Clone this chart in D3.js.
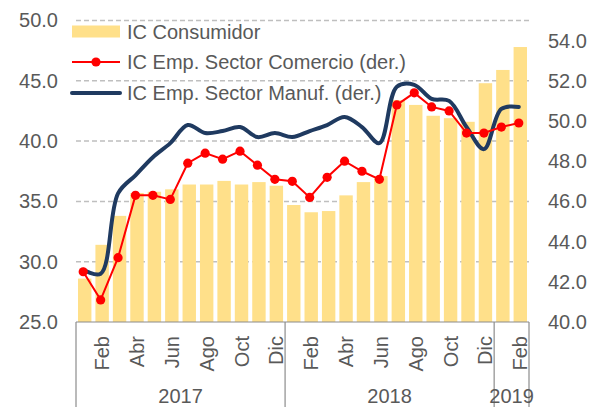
<!DOCTYPE html>
<html><head><meta charset="utf-8">
<script src="https://cdn.jsdelivr.net/npm/d3@7"></script>
<style>
body{margin:0;background:#fff}
svg text{font-family:"Liberation Sans",Arial,sans-serif;fill:#595959}
</style>
</head><body>
<svg id="c" width="604" height="407"></svg>
<script>
const months = ["Ene","Feb","Mar","Abr","May","Jun","Jul","Ago","Sep","Oct","Nov","Dic",
                "Ene","Feb","Mar","Abr","May","Jun","Jul","Ago","Sep","Oct","Nov","Dic",
                "Ene","Feb"];
const years = ["2017","2018","2019"];
const yearSpans = [12,12,2];
const consumidor = [28.6,31.4,33.8,35.7,35.8,36.0,36.4,36.4,36.7,36.4,36.6,36.3,
                    34.7,34.1,34.2,35.5,36.6,37.1,43.4,43.0,42.1,41.9,41.6,44.8,
                    45.9,47.8];
const comercio = [42.5,41.1,43.2,46.3,46.3,46.1,47.9,48.4,48.1,48.5,47.8,47.1,
                  47.0,46.2,47.2,48.0,47.5,47.1,50.8,51.4,50.7,50.5,49.4,49.4,
                  49.7,49.9];
const manuf = [42.6,42.4,46.4,47.3,48.2,48.9,49.8,49.4,49.5,49.7,49.2,49.4,
               49.2,49.5,49.8,50.2,49.7,48.9,51.7,51.8,51.1,51.0,49.7,48.6,
               50.6,50.7];
const leftTicks = [25,30,35,40,45,50];
const rightTicks = [40,42,44,46,48,50,52,54];
const legendLabels = ["IC Consumidor","IC Emp. Sector Comercio (der.)","IC Emp. Sector Manuf. (der.)"];

const colBar = "#FFE08A", colRed = "#FF0000", colNavy = "#1F3A60", colAxis = "#8C8C8C";
const L = 76, R = 529, T = 20.5, B = 322;
const svg = d3.select("#c");

const x = d3.scaleBand().domain(d3.range(months.length)).range([L, R])
  .paddingInner(0.23).paddingOuter(0.115);
const yL = d3.scaleLinear().domain([25, 50]).range([B, T]);
const yR = d3.scaleLinear().domain([40, 55]).range([B, T]);
const cx = i => x(i) + x.bandwidth() / 2 - 1.5;

// gridlines
svg.append("g").selectAll("line").data(leftTicks.filter(d => d > 25)).join("line")
  .attr("x1", L).attr("x2", R).attr("y1", d => yL(d)).attr("y2", d => yL(d))
  .attr("stroke", "#BFBFBF").attr("stroke-width", 1.5).attr("stroke-dasharray", "5,3");

// bars
svg.append("g").selectAll("rect").data(consumidor).join("rect")
  .attr("x", (d, i) => x(i)).attr("width", x.bandwidth())
  .attr("y", d => yL(d)).attr("height", d => B - yL(d))
  .attr("fill", colBar);

// navy smooth line
svg.append("path").datum(manuf)
  .attr("d", d3.line().x((d, i) => cx(i)).y(d => yR(d)).curve(d3.curveCatmullRom.alpha(0.5)))
  .attr("fill", "none").attr("stroke", colNavy).attr("stroke-width", 4)
  .attr("stroke-linejoin", "round").attr("stroke-linecap", "round");

// red line + markers
svg.append("path").datum(comercio)
  .attr("d", d3.line().x((d, i) => cx(i)).y(d => yR(d)))
  .attr("fill", "none").attr("stroke", colRed).attr("stroke-width", 2);
svg.append("g").selectAll("circle").data(comercio).join("circle")
  .attr("cx", (d, i) => cx(i)).attr("cy", d => yR(d)).attr("r", 4.6).attr("fill", colRed);

// left axis
const gl = svg.append("g").attr("transform", `translate(${L},0)`)
  .call(d3.axisLeft(yL).tickValues(leftTicks).tickFormat(d3.format(".1f")).tickSize(0).tickPadding(18));
gl.select(".domain").remove();
gl.selectAll("text").attr("font-size", 20).attr("font-family", null);

// right axis
const gr = svg.append("g").attr("transform", `translate(${R},0)`)
  .call(d3.axisRight(yR).tickValues(rightTicks).tickFormat(d3.format(".1f")).tickSize(0).tickPadding(19));
gr.select(".domain").remove();
gr.selectAll("text").attr("font-size", 20).attr("font-family", null);

// category axis box
const bounds = [0];
yearSpans.forEach(s => bounds.push(bounds[bounds.length - 1] + s));
const bx = k => L + (R - L) * bounds[k] / months.length;
svg.append("line").attr("x1", L).attr("x2", R).attr("y1", B).attr("y2", B)
  .attr("stroke", colAxis).attr("stroke-width", 1.2);
svg.append("g").selectAll("line").data(bounds).join("line")
  .attr("x1", (d, k) => bx(k)).attr("x2", (d, k) => bx(k)).attr("y1", B).attr("y2", 407)
  .attr("stroke", colAxis).attr("stroke-width", 1.2);

// month labels
svg.append("g").selectAll("text").data(months.map((m, i) => [m, i]).filter(d => d[1] % 2 === 1)).join("text")
  .attr("transform", d => `translate(${x(d[1]) + x.bandwidth() / 2},336) rotate(-90)`)
  .attr("text-anchor", "end").attr("dy", "0.35em").attr("font-size", 20)
  .text(d => d[0]);

// year labels
svg.append("g").selectAll("text").data(years).join("text")
  .attr("x", (d, k) => (bx(k) + bx(k + 1)) / 2).attr("y", 403)
  .attr("text-anchor", "middle").attr("font-size", 20).text(d => d);

// legend
const lg = svg.append("g");
const ly = [32, 62, 93];
lg.append("rect").attr("x", 72).attr("y", ly[0] - 6.5).attr("width", 48).attr("height", 12).attr("fill", colBar);
lg.append("line").attr("x1", 72).attr("x2", 120).attr("y1", ly[1]).attr("y2", ly[1]).attr("stroke", colRed).attr("stroke-width", 2);
lg.append("circle").attr("cx", 96).attr("cy", ly[1]).attr("r", 4.6).attr("fill", colRed);
lg.append("line").attr("x1", 72).attr("x2", 120).attr("y1", ly[2]).attr("y2", ly[2]).attr("stroke", colNavy).attr("stroke-width", 4).attr("stroke-linecap", "round");
lg.selectAll("text").data(legendLabels).join("text")
  .attr("x", 127).attr("y", (d, i) => ly[i]).attr("dy", "0.35em").attr("font-size", 20).text(d => d);
</script>
</body></html>
